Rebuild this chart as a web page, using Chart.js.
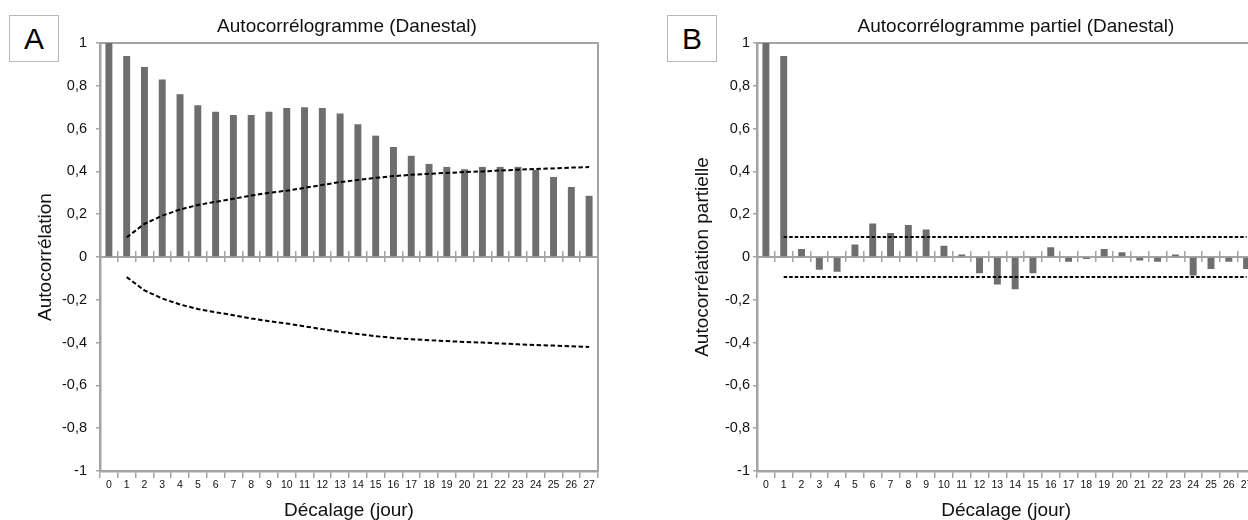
<!DOCTYPE html>
<html><head><meta charset="utf-8">
<script src="https://cdn.jsdelivr.net/npm/chart.js@4/dist/chart.umd.min.js"></script>
<style>
html,body{margin:0;padding:0;width:1248px;height:520px;overflow:hidden;background:#fff;}
.wrap{position:absolute;top:0;height:520px;}
#wa{left:0;width:694px;}
#wb{left:660px;width:712px;}
.tag{position:absolute;top:15px;width:48px;height:45px;border:1.5px solid #b8b8b8;font-family:"Liberation Sans",Arial,sans-serif;font-size:30px;line-height:45px;text-align:center;color:#000;background:#fff;}
</style></head><body>
<div class="wrap" id="wa"><canvas id="ca"></canvas></div>
<div class="wrap" id="wb"><canvas id="cb"></canvas></div>
<div class="tag" style="left:9px">A</div>
<div class="tag" style="left:667px">B</div>
<script>
// ---- data ----
const lagLabels = ['0','1','2','3','4','5','6','7','8','9','10','11','12','13','14','15','16','17','18','19','20','21','22','23','24','25','26','27'];
const acfValues = [1.0, 0.939, 0.888, 0.829, 0.760, 0.709, 0.679, 0.664, 0.664, 0.679, 0.696, 0.700, 0.696, 0.671, 0.620, 0.567, 0.514, 0.473, 0.435, 0.421, 0.410, 0.421, 0.421, 0.421, 0.407, 0.374, 0.327, 0.286];
const acfUpper = [null, 0.092, 0.155, 0.193, 0.222, 0.243, 0.258, 0.272, 0.287, 0.300, 0.310, 0.323, 0.337, 0.350, 0.360, 0.370, 0.378, 0.384, 0.389, 0.393, 0.397, 0.400, 0.404, 0.408, 0.411, 0.414, 0.418, 0.420];
const acfLower = [null, -0.094, -0.156, -0.194, -0.222, -0.243, -0.258, -0.272, -0.287, -0.300, -0.311, -0.324, -0.337, -0.350, -0.360, -0.370, -0.378, -0.384, -0.389, -0.393, -0.397, -0.400, -0.404, -0.408, -0.411, -0.414, -0.417, -0.420];
const pacfValues = [1.0, 0.939, 0.037, -0.060, -0.069, 0.058, 0.157, 0.112, 0.150, 0.129, 0.053, 0.012, -0.076, -0.128, -0.151, -0.076, 0.045, -0.022, -0.009, 0.037, 0.022, -0.016, -0.022, 0.012, -0.087, -0.056, -0.022, -0.056];
const pacfUpper = [null, 0.093, 0.094, 0.094, 0.094, 0.094, 0.094, 0.094, 0.094, 0.094, 0.094, 0.094, 0.094, 0.094, 0.094, 0.094, 0.094, 0.094, 0.094, 0.094, 0.094, 0.094, 0.094, 0.094, 0.094, 0.094, 0.094, 0.094];
const pacfLower = [null, -0.094, -0.093, -0.093, -0.093, -0.093, -0.093, -0.093, -0.093, -0.093, -0.093, -0.093, -0.093, -0.093, -0.093, -0.093, -0.093, -0.093, -0.093, -0.093, -0.093, -0.093, -0.093, -0.093, -0.093, -0.093, -0.093, -0.093];
const yTickMin = -1, yTickMax = 1, yTickStep = 0.2;

// ---- styling ----
const FONT = '"Liberation Sans", Arial, Helvetica, sans-serif';
const GRAY = '#a4a4a4';
const BAR = '#6e6e6e';
const TXT = '#111';

function fmt(v){ return (Math.round(v*10)/10).toString().replace('.', ','); }

function build(canvasId, cfg){
  const scales = {
    x: { type:'category', position:'bottom', offset:true,
         grid:{offset:true, drawOnChartArea:false, drawTicks:true, tickLength:7, color:GRAY, lineWidth:1.5},
         border:{display:true, color:GRAY, width:2.5},
         ticks:{font:{family:FONT, size:10.5}, color:TXT, padding:1, maxRotation:0, autoSkip:false},
         title:{display:true, text:'Décalage (jour)', font:{family:FONT, size:19, lineHeight:1}, color:TXT, padding:{top:0, bottom:0}},
         afterFit: s => { s.height = 49; } },
    x0: { axis:'x', type:'category', position:{y:0}, offset:true,
          grid:{offset:true, drawOnChartArea:false, drawTicks:true, tickLength:4, color:GRAY, lineWidth:1.5},
          border:{display:true, color:GRAY, width:2}, ticks:{display:false} },
    x0u: { axis:'x', type:'category', position:{y:0}, offset:true,
          grid:{offset:true, drawOnChartArea:false, drawTicks:true, tickLength:-6, color:GRAY, lineWidth:1.5},
          border:{display:false}, ticks:{display:false} },
    xt: { axis:'x', type:'category', position:'top', offset:true,
          grid:{drawOnChartArea:false, drawTicks:false}, border:{display:true, color:GRAY, width:2},
          ticks:{display:false}, afterFit: s => { s.height = 0; } },
    y: { type:'linear', position:'left', min:yTickMin, max:yTickMax,
         ticks:{stepSize:yTickStep, callback: v => fmt(v), font:{family:FONT, size:14.5}, color:TXT, padding:cfg.yPad},
         grid:{drawOnChartArea:false, drawTicks:true, tickLength:4, color:GRAY, lineWidth:1.5},
         border:{display:true, color:GRAY, width:2.5},
         title:{display:true, text:cfg.yTitle, font:{family:FONT, size:19, lineHeight:1}, color:TXT, padding:{top:cfg.yTitlePad, bottom:0}},
         afterFit: s => { s.width = cfg.yWidth; } },
    yr: { axis:'y', type:'linear', position:'right', min:yTickMin, max:yTickMax,
          ticks:{display:false}, grid:{drawOnChartArea:false, drawTicks:false},
          border:{display:true, color:GRAY, width:2}, afterFit: s => { s.width = cfg.rWidth; } }
  };
  return new Chart(document.getElementById(canvasId), {
    type:'bar',
    data:{
      labels: lagLabels,
      datasets:[
        { type:'bar', data:cfg.values, backgroundColor:BAR, borderWidth:0, barPercentage:0.39, categoryPercentage:1, xAxisID:'x', yAxisID:'y', order:2 },
        { type:'line', data:cfg.upper, borderColor:'#000', borderWidth:2, borderDash:cfg.dash, pointRadius:0, fill:false, tension:0, xAxisID:'x', yAxisID:'y', order:1 },
        { type:'line', data:cfg.lower, borderColor:'#000', borderWidth:2, borderDash:cfg.dash, pointRadius:0, fill:false, tension:0, xAxisID:'x', yAxisID:'y', order:1 }
      ]
    },
    options:{
      responsive:true, maintainAspectRatio:false, devicePixelRatio:1, animation:false,
      layout:{padding:0},
      plugins:{
        legend:{display:false}, tooltip:{enabled:false},
        title:{display:true, text:cfg.title, fullSize:true, color:TXT,
               font:{family:FONT, size:19, weight:'normal', lineHeight:1.2}, padding:{top:15, bottom:5.2}}
      },
      scales
    }
  });
}

build('ca', { title:'Autocorrélogramme (Danestal)', yTitle:'Autocorrélation', values:acfValues, upper:acfUpper, lower:acfLower,
              yWidth:100, rWidth:96, yPad:9, yTitlePad:36.5, dash:[4.5,2.5] });
build('cb', { title:'Autocorrélogramme partiel (Danestal)', yTitle:'Autocorrélation partielle', values:pacfValues, upper:pacfUpper, lower:pacfLower,
              yWidth:97, rWidth:116.5, yPad:3, yTitlePad:33.5, dash:[3.5,2] });
</script>
</body></html>
